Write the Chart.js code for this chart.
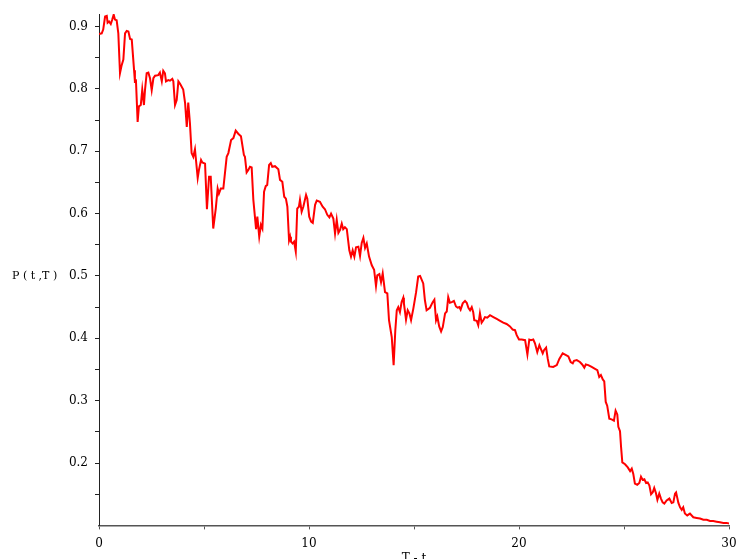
<!DOCTYPE html>
<html>
<head>
<meta charset="utf-8">
<script src="https://cdn.jsdelivr.net/npm/chart.js@4.4.1/dist/chart.umd.min.js"></script>
<style>
  html, body { margin: 0; padding: 0; background: #fff; }
  #wrap { width: 736px; height: 559px; }
</style>
</head>
<body>
<div id="wrap"><canvas id="price-chart"></canvas></div>
<script>
// time to maturity T - t
const tValues = [
  0, 0.13, 0.2, 0.29, 0.37, 0.41, 0.48, 0.56, 0.63, 0.7, 0.76, 0.84, 0.92, 1.0, 1.08, 1.16,
  1.24, 1.32, 1.4, 1.48, 1.56, 1.67, 1.71, 1.76, 1.84, 1.9, 1.99, 2.06, 2.14, 2.19, 2.27, 2.35,
  2.43, 2.51, 2.59, 2.67, 2.82, 2.9, 2.99, 3.06, 3.14, 3.19, 3.3, 3.38, 3.49, 3.54, 3.62, 3.7,
  3.78, 3.86, 4.01, 4.1, 4.18, 4.25, 4.33, 4.41, 4.49, 4.57, 4.7, 4.76, 4.86, 4.92, 5.05, 5.14,
  5.24, 5.32, 5.44, 5.56, 5.65, 5.71, 5.8, 5.92, 6.08, 6.16, 6.29, 6.4, 6.51, 6.63, 6.76, 6.9,
  6.95, 7.03, 7.11, 7.19, 7.27, 7.35, 7.48, 7.54, 7.63, 7.71, 7.78, 7.86, 7.94, 8.01, 8.1, 8.18,
  8.25, 8.38, 8.54, 8.62, 8.73, 8.82, 8.9, 8.97, 9.05, 9.1, 9.14, 9.22, 9.29, 9.37, 9.44, 9.52,
  9.57, 9.65, 9.73, 9.86, 9.92, 10.01, 10.1, 10.18, 10.29, 10.37, 10.52, 10.65, 10.76, 10.87, 10.97, 11.05,
  11.16, 11.24, 11.32, 11.4, 11.48, 11.56, 11.63, 11.71, 11.8, 11.92, 12.0, 12.08, 12.16, 12.24, 12.35, 12.43,
  12.51, 12.59, 12.67, 12.75, 12.86, 12.99, 13.1, 13.19, 13.25, 13.35, 13.43, 13.51, 13.62, 13.73, 13.81, 13.94,
  14.03, 14.11, 14.18, 14.25, 14.33, 14.41, 14.49, 14.52, 14.62, 14.7, 14.78, 14.86, 14.97, 15.1, 15.2, 15.29,
  15.44, 15.52, 15.6, 15.76, 15.89, 15.97, 16.05, 16.11, 16.2, 16.29, 16.37, 16.48, 16.56, 16.63, 16.71, 16.8,
  16.9, 17.0, 17.08, 17.16, 17.22, 17.32, 17.43, 17.51, 17.59, 17.67, 17.75, 17.82, 17.87, 17.99, 18.06, 18.14,
  18.22, 18.3, 18.38, 18.49, 18.62, 18.78, 18.94, 19.1, 19.25, 19.41, 19.57, 19.7, 19.81, 19.89, 20.0, 20.13,
  20.29, 20.4, 20.49, 20.57, 20.68, 20.76, 20.87, 20.97, 21.03, 21.13, 21.19, 21.29, 21.37, 21.44, 21.63, 21.8,
  21.92, 22.08, 22.24, 22.35, 22.46, 22.56, 22.62, 22.75, 22.9, 23.01, 23.11, 23.18, 23.3, 23.46, 23.62, 23.73,
  23.82, 23.9, 23.99, 24.06, 24.13, 24.2, 24.3, 24.41, 24.52, 24.6, 24.68, 24.73, 24.81, 24.86, 24.92, 25.05,
  25.18, 25.29, 25.37, 25.44, 25.52, 25.63, 25.73, 25.81, 25.89, 25.97, 26.05, 26.13, 26.21, 26.29, 26.37, 26.44,
  26.52, 26.59, 26.68, 26.76, 26.84, 26.92, 27.03, 27.16, 27.27, 27.35, 27.43, 27.48, 27.59, 27.67, 27.75, 27.82,
  27.9, 28.01, 28.14, 28.3, 28.46, 28.62, 28.78, 28.94, 29.1, 29.25, 29.41, 29.57, 29.73, 29.89, 30.0
];

// bond price P(t,T)
const pValues = [
  0.888, 0.889, 0.895, 0.916, 0.917, 0.906, 0.908, 0.904, 0.911, 0.919, 0.911, 0.910, 0.889, 0.825, 0.838, 0.847,
  0.889, 0.893, 0.892, 0.880, 0.879, 0.830, 0.812, 0.813, 0.747, 0.772, 0.774, 0.799, 0.774, 0.798, 0.825, 0.826,
  0.817, 0.798, 0.817, 0.821, 0.822, 0.826, 0.812, 0.829, 0.825, 0.812, 0.814, 0.813, 0.816, 0.812, 0.774, 0.782,
  0.812, 0.808, 0.799, 0.777, 0.739, 0.778, 0.745, 0.697, 0.691, 0.703, 0.657, 0.670, 0.686, 0.682, 0.680, 0.607,
  0.659, 0.659, 0.576, 0.608, 0.640, 0.632, 0.640, 0.640, 0.691, 0.697, 0.718, 0.721, 0.733, 0.728, 0.724, 0.694,
  0.691, 0.666, 0.670, 0.675, 0.674, 0.622, 0.575, 0.595, 0.563, 0.582, 0.576, 0.635, 0.644, 0.646, 0.678, 0.681,
  0.675, 0.676, 0.671, 0.654, 0.651, 0.627, 0.624, 0.611, 0.557, 0.563, 0.555, 0.552, 0.555, 0.539, 0.608, 0.611,
  0.622, 0.603, 0.611, 0.630, 0.624, 0.595, 0.587, 0.585, 0.614, 0.621, 0.619, 0.611, 0.607, 0.598, 0.594, 0.600,
  0.592, 0.568, 0.590, 0.569, 0.574, 0.584, 0.575, 0.578, 0.575, 0.541, 0.531, 0.541, 0.531, 0.546, 0.547, 0.532,
  0.553, 0.561, 0.545, 0.552, 0.531, 0.517, 0.510, 0.484, 0.501, 0.503, 0.490, 0.504, 0.474, 0.472, 0.429, 0.402,
  0.357, 0.413, 0.445, 0.450, 0.442, 0.458, 0.465, 0.456, 0.430, 0.445, 0.440, 0.429, 0.448, 0.474, 0.499, 0.500,
  0.488, 0.461, 0.445, 0.449, 0.458, 0.462, 0.429, 0.435, 0.419, 0.411, 0.418, 0.440, 0.443, 0.466, 0.457, 0.458,
  0.460, 0.451, 0.449, 0.450, 0.446, 0.456, 0.460, 0.457, 0.449, 0.445, 0.450, 0.442, 0.429, 0.428, 0.421, 0.440,
  0.425, 0.429, 0.434, 0.433, 0.437, 0.434, 0.431, 0.428, 0.425, 0.423, 0.419, 0.414, 0.413, 0.405, 0.398, 0.398,
  0.397, 0.374, 0.398, 0.397, 0.398, 0.392, 0.378, 0.389, 0.384, 0.376, 0.381, 0.385, 0.367, 0.355, 0.354, 0.357,
  0.367, 0.376, 0.373, 0.371, 0.362, 0.360, 0.364, 0.365, 0.362, 0.358, 0.353, 0.358, 0.357, 0.354, 0.351, 0.349,
  0.338, 0.341, 0.334, 0.331, 0.298, 0.292, 0.271, 0.270, 0.268, 0.284, 0.278, 0.258, 0.251, 0.226, 0.201, 0.198,
  0.193, 0.187, 0.191, 0.183, 0.167, 0.165, 0.168, 0.178, 0.173, 0.174, 0.168, 0.169, 0.164, 0.150, 0.153, 0.160,
  0.152, 0.141, 0.151, 0.143, 0.137, 0.135, 0.140, 0.143, 0.136, 0.137, 0.151, 0.153, 0.136, 0.129, 0.125, 0.129,
  0.119, 0.116, 0.119, 0.113, 0.112, 0.111, 0.109, 0.109, 0.107, 0.107, 0.106, 0.105, 0.104, 0.104, 0.103
];

const xTicks = [0, 5, 10, 15, 20, 25, 30];
const xLabels = [0, 10, 20, 30];
const yTicks = [0.15, 0.2, 0.25, 0.3, 0.35, 0.4, 0.45, 0.5, 0.55, 0.6, 0.65, 0.7, 0.75, 0.8, 0.85, 0.9];
const yLabels = [0.2, 0.3, 0.4, 0.5, 0.6, 0.7, 0.8, 0.9];

const xTitle = "T - t";
const yTitle = "P ( t ,T )";

const serif = "'DejaVu Serif', serif";

// y title is horizontal in the original, so draw it by hand next to 0.5
const yTitlePlugin = {
  id: "yTitle",
  afterDraw(chart) {
    const ctx = chart.ctx;
    const y = chart.scales.y.getPixelForValue(0.5);
    ctx.save();
    ctx.font = "11px " + serif;
    ctx.fillStyle = "#000";
    ctx.textBaseline = "middle";
    ctx.textAlign = "left";
    ctx.fillText(yTitle, 12, y);
    ctx.restore();
  },
};

const data = tValues.map((t, i) => ({ x: t, y: pValues[i] }));

new Chart(document.getElementById("price-chart"), {
  type: "line",
  data: {
    datasets: [
      {
        data: data,
        borderColor: "#ff0000",
        borderWidth: 2,
        pointRadius: 0,
        tension: 0,
        fill: false,
      },
    ],
  },
  options: {
    responsive: true,
    maintainAspectRatio: false,
    animation: false,
    layout: { padding: { top: 14, right: 7, left: 0, bottom: 0 } },
    plugins: {
      legend: { display: false },
      tooltip: { enabled: false },
    },
    scales: {
      x: {
        type: "linear",
        min: 0,
        max: 30,
        afterBuildTicks: (scale) => {
          scale.ticks = xTicks.map((v) => ({ value: v }));
        },
        afterFit: (scale) => {
          scale.height = 33.6;
          // labels at the ends may stick out, don't shrink the plot for them
          scale.paddingLeft = 0;
          scale.paddingRight = 0;
        },
        ticks: {
          autoSkip: false,
          maxRotation: 0,
          padding: 7,
          color: "#000",
          font: { family: serif, size: 12 },
          callback: (v) => (xLabels.includes(v) ? String(v) : ""),
        },
        grid: {
          drawOnChartArea: false,
          drawTicks: true,
          tickLength: 4,
          color: "#555",
        },
        border: { display: true, color: "#555", width: 1.5 },
        title: {
          display: true,
          text: xTitle,
          color: "#000",
          font: { family: serif, size: 12 },
          padding: { top: 0, bottom: -7 },
        },
      },
      y: {
        type: "linear",
        min: 0.1,
        max: 0.92,
        afterBuildTicks: (scale) => {
          scale.ticks = yTicks.map((v) => ({ value: v }));
        },
        afterFit: (scale) => {
          scale.width = 99;
          scale.paddingTop = 0;
          scale.paddingBottom = 0;
        },
        ticks: {
          autoSkip: false,
          padding: 7,
          color: "#000",
          font: { family: serif, size: 12 },
          callback: (v) => {
            const hit = yLabels.find((l) => Math.abs(l - v) < 1e-6);
            return hit !== undefined ? hit.toFixed(1) : "";
          },
        },
        grid: {
          drawOnChartArea: false,
          drawTicks: true,
          tickLength: 4,
          color: "#222",
        },
        border: { display: true, color: "#222", width: 1 },
      },
    },
  },
  plugins: [yTitlePlugin],
});
</script>
</body>
</html>
